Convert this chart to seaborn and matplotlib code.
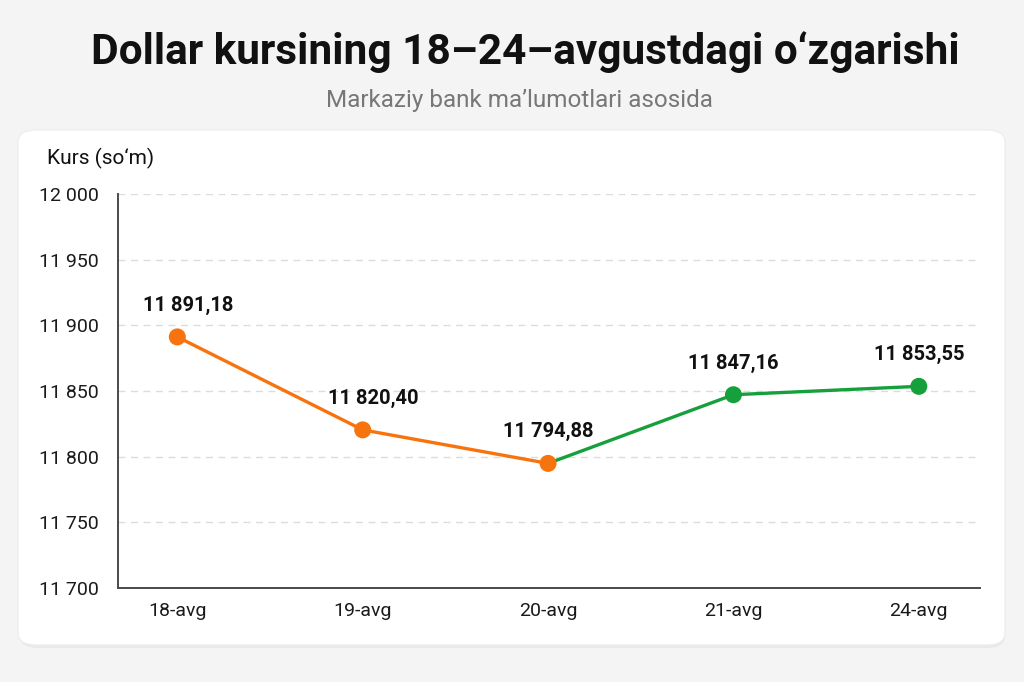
import pandas as pd
import matplotlib.pyplot as plt
import seaborn as sns
from matplotlib.patches import FancyBboxPatch
from matplotlib.ticker import FuncFormatter

# Data
dates = ['18-avg', '19-avg', '20-avg', '21-avg', '24-avg']
rates = [11891.18, 11820.40, 11794.88, 11847.16, 11853.55]
rate_labels = ['11 891,18', '11 820,40', '11 794,88', '11 847,16', '11 853,55']
trend = ['down', 'down', 'down', 'up', 'up']

orange = '#f7730e'
green = '#16a03c'

sns.set_theme(style='white')
plt.rcParams['font.family'] = ['Roboto', 'DejaVu Sans']

df = pd.DataFrame({'date': dates, 'rate': rates, 'trend': trend})
df['pos'] = range(len(df))

fig = plt.figure(figsize=(10.24, 6.82), dpi=100)
fig.patch.set_facecolor('#f4f4f4')

# white card behind the chart
shadow = FancyBboxPatch((20 / 1024, 1 - 648 / 682), 985 / 1024, 515 / 682,
                        boxstyle='round,pad=0,rounding_size=0.018',
                        transform=fig.transFigure, facecolor='#e9e9e9',
                        edgecolor='none', zorder=-2)
card = FancyBboxPatch((18 / 1024, 1 - 645 / 682), 987 / 1024, 515 / 682,
                      boxstyle='round,pad=0,rounding_size=0.018',
                      transform=fig.transFigure, facecolor='white',
                      edgecolor='#ececec', linewidth=0.8, zorder=-1)
fig.patches.extend([shadow, card])

ax = fig.add_axes([118 / 1024, 1 - 588 / 682, 862 / 1024, 394 / 682])
ax.set_facecolor('none')
ax.set_zorder(2)

down = df.iloc[0:3]
up = df.iloc[2:5]
sns.lineplot(data=up, x='pos', y='rate', color=green, linewidth=2.4, ax=ax, zorder=3)
sns.lineplot(data=down, x='pos', y='rate', color=orange, linewidth=2.4, ax=ax, zorder=3)
sns.scatterplot(data=df, x='pos', y='rate', hue='trend',
                palette={'down': orange, 'up': green}, s=150,
                edgecolor='none', legend=False, ax=ax, zorder=4)

for x, y, lab in zip(df['pos'], rates, rate_labels):
    ax.annotate(lab, (x, y), xytext=(8 if x < 2 else 0, 16), textcoords='offset points',
                ha='center', va='bottom', fontsize=14.5, fontweight='bold', color='#111111')

ax.set_xlim(-0.32, 4.33)
ax.set_ylim(11700, 12000)
ax.set_yticks(range(11700, 12001, 50))
ax.yaxis.set_major_formatter(FuncFormatter(lambda v, p: f'{int(v):,}'.replace(',', ' ')))
ax.set_xticks(df['pos'])
ax.set_xticklabels(dates)
ax.tick_params(axis='both', length=0, labelsize=14, colors='#1a1a1a')
ax.tick_params(axis='y', pad=14)
ax.tick_params(axis='x', pad=10)
ax.set_xlabel('')
ax.set_ylabel('')

for v in range(11750, 12001, 50):
    ax.axhline(v, color='#dcdcdc', linestyle=(0, (5, 4)), linewidth=1, zorder=1)

for side in ['top', 'right']:
    ax.spines[side].set_visible(False)
for side in ['left', 'bottom']:
    ax.spines[side].set_color('#4a4a4a')
    ax.spines[side].set_linewidth(1.4)

fig.text(47 / 1024, 1 - 158 / 682, 'Kurs (so‘m)', fontsize=15, color='#111111',
         ha='left', va='center')
fig.text(0.513, 1 - 52 / 682, 'Dollar kursining 18–24–avgustdagi o‘zgarishi',
         fontsize=30.5, fontweight='bold', color='#111111', ha='center', va='center')
fig.text(0.507, 1 - 101 / 682, 'Markaziy bank ma’lumotlari asosida',
         fontsize=17.5, color='#777777', ha='center', va='center')

fig.savefig('out.png', dpi=100, facecolor=fig.get_facecolor())
